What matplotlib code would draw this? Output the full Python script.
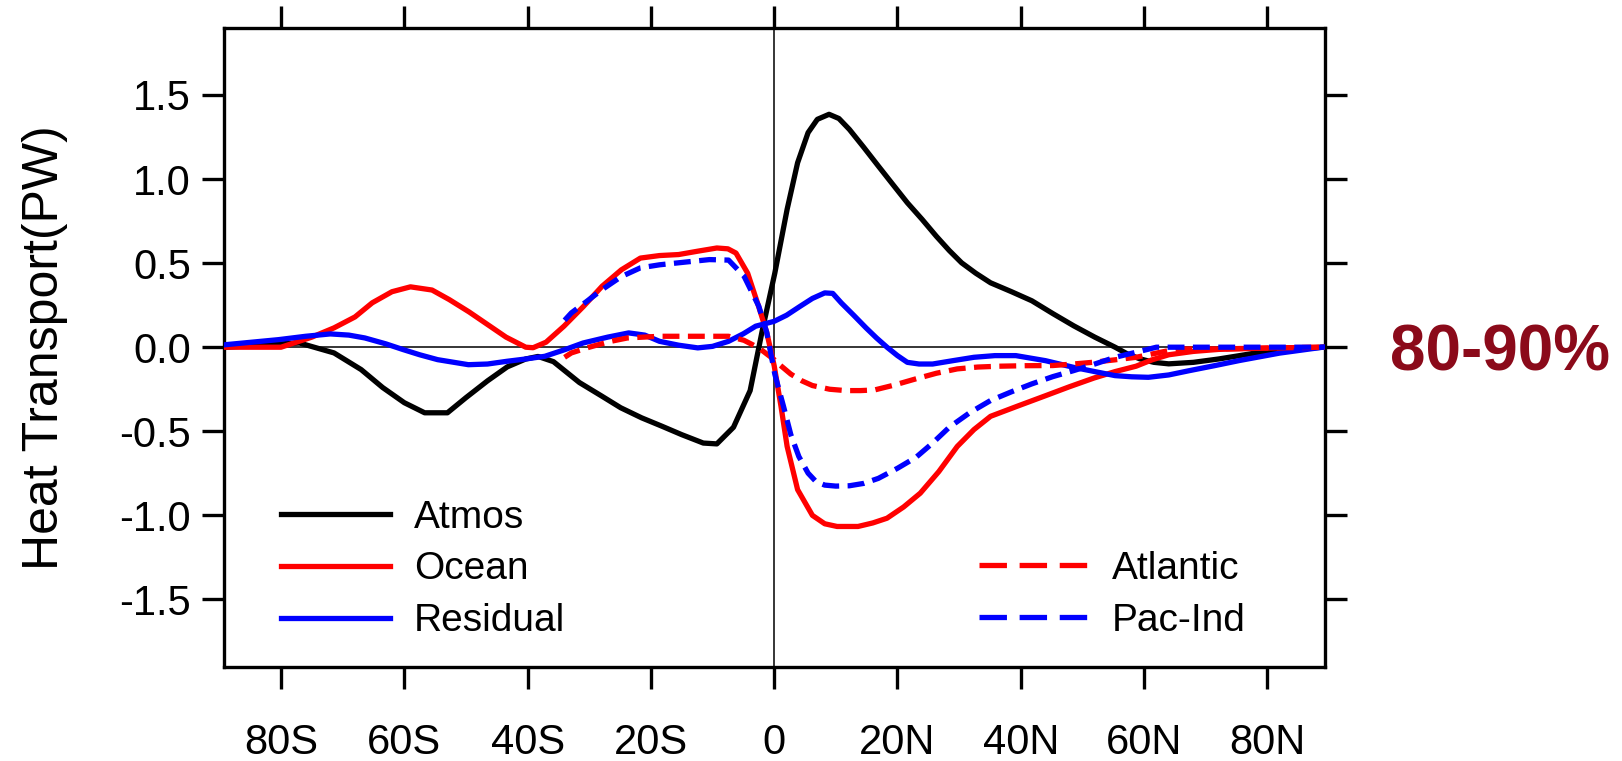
import numpy as np
import matplotlib
matplotlib.use('Agg')
import matplotlib.pyplot as plt
from matplotlib.lines import Line2D

plt.rcParams['font.family'] = ['Liberation Sans', 'DejaVu Sans']

# Northward heat transport (PW)
atmos_lat = [-89, -80, -77, -71.4, -67, -63.5, -60, -56.7, -53, -50, -46.5, -43.3, -40.3, -38.3,
             -35.8, -31.6, -28, -24.9, -21.5, -18.2, -15, -11.5, -9.3, -6.6, -3.9, -1.9, 0.1,
             2.1, 3.8, 5.5, 7, 8.9, 10.5, 12.2, 14.5, 16.9, 19.2, 21.6, 24, 26.3, 28.4, 30.4,
             32.7, 35.1, 38.5, 41.8, 45.2, 48.6, 52, 55.3, 57.3, 59.3, 61.6, 64, 68, 72.1,
             75.5, 78.8, 84, 89]
atmos = [0.0, 0.02, 0.025, -0.034, -0.133, -0.24, -0.33, -0.39, -0.39, -0.30, -0.2, -0.117, -0.07,
         -0.055, -0.086, -0.21, -0.29, -0.36, -0.42, -0.47, -0.52, -0.57, -0.575, -0.476, -0.258,
         0.105, 0.44, 0.82, 1.097, 1.276, 1.355, 1.385, 1.36, 1.295, 1.19, 1.077, 0.97, 0.859,
         0.76, 0.66, 0.575, 0.502, 0.44, 0.383, 0.33, 0.276, 0.2, 0.127, 0.06, 0.0, -0.04, -0.069,
         -0.09, -0.099, -0.09, -0.07, -0.05, -0.03, -0.012, 0.0]

ocean_lat = [-89, -80, -75, -71.4, -68, -65.2, -62, -59, -55.5, -52.7, -49.5, -46.5, -43.5,
             -40.3, -39.1, -37, -34.1, -31, -27.9, -24.8, -21.7, -18.6, -15.5, -12.4, -9.3,
             -7.5, -6.2, -4.3, -2.5, -1.2, 0, 1.1, 2.1, 3.8, 6.2, 8.2, 10.2, 13.6, 16, 18.3,
             21, 23.7, 26.7, 29.7, 32.4, 35.1, 39.5, 43.9, 47.9, 51.9, 55.3, 58.7, 61.3, 64,
             68, 72.1, 80, 89]
ocean = [0.0, 0.0, 0.06, 0.115, 0.18, 0.264, 0.33, 0.359, 0.34, 0.283, 0.21, 0.135, 0.06, 0.0,
         -0.003, 0.03, 0.125, 0.24, 0.363, 0.46, 0.53, 0.545, 0.551, 0.571, 0.59, 0.585, 0.56,
         0.44, 0.24, 0.087, -0.11, -0.35, -0.59, -0.847, -1.0, -1.05, -1.066, -1.066, -1.045,
         -1.017, -0.95, -0.868, -0.74, -0.59, -0.49, -0.411, -0.35, -0.29, -0.235, -0.183, -0.145,
         -0.113, -0.075, -0.045, -0.025, -0.013, -0.005, 0.0]

resid_lat = [-89, -80.4, -76, -72, -69, -66.4, -63, -60.2, -57.5, -54.6, -49.6, -46.5, -43.4,
             -40.3, -37.2, -34, -31, -27, -23.6, -21, -18.6, -15.5, -12.4, -10, -7.4, -5,
             -3, 0, 2, 4.2, 6.2, 8.2, 9.5, 10.9, 12.9, 14.9, 16.6, 18.3, 20, 21.6, 23.5, 25.7,
             29, 32.4, 35.8, 39.2, 44, 48.6, 52, 55.3, 58, 60.7, 64, 67.4, 71.4, 75.5, 82, 89]
resid = [0.015, 0.045, 0.065, 0.079, 0.072, 0.055, 0.02, -0.014, -0.045, -0.074, -0.104, -0.1,
         -0.084, -0.07, -0.054, -0.015, 0.025, 0.06, 0.085, 0.072, 0.035, 0.012, -0.004, 0.005,
         0.035, 0.08, 0.125, 0.154, 0.19, 0.243, 0.29, 0.323, 0.32, 0.263, 0.19, 0.115, 0.055,
         0.0, -0.05, -0.09, -0.1, -0.1, -0.08, -0.06, -0.05, -0.05, -0.08, -0.12, -0.145, -0.169,
         -0.176, -0.179, -0.165, -0.139, -0.11, -0.079, -0.035, 0.0]

atl_lat = [-34, -32.9, -30, -26.5, -23.8, -18.6, -12.4, -7.4, -4.9, -2.5, 0, 0.1, 2.7, 4.5,
           6.2, 9, 11.6, 14, 16.3, 19.5, 23, 26.3, 29.7, 33, 36.5, 40.8, 45.2, 48.5, 51.9,
           55.3, 58.7, 62, 65.4, 72.1, 80, 89]
atl = [-0.06, -0.034, 0.0, 0.035, 0.055, 0.065, 0.065, 0.065, 0.041, -0.004, -0.074, -0.08,
       -0.16, -0.2, -0.228, -0.25, -0.258, -0.258, -0.254, -0.225, -0.188, -0.155, -0.129,
       -0.118, -0.113, -0.11, -0.109, -0.1, -0.089, -0.075, -0.06, -0.035, -0.01, -0.01,
       -0.005, 0.0]

pac_lat = [-34, -32.9, -30.5, -27.9, -24.8, -21.7, -18.6, -15.5, -10.5, -7.4, -4.9, -2.5,
           -1.2, 0.1, 1.5, 2.7, 4, 5.5, 6.8, 8.2, 10, 12.2, 14.5, 16.9, 20, 23, 25.7, 28.4,
           31.7, 35.1, 38.5, 41.8, 45.2, 48.6, 52, 55.3, 58.7, 62, 68.8, 80, 89]
pac = [0.16, 0.204, 0.27, 0.343, 0.42, 0.472, 0.49, 0.502, 0.521, 0.518, 0.423, 0.244, 0.087,
       -0.16, -0.35, -0.52, -0.65, -0.749, -0.8, -0.82, -0.826, -0.824, -0.81, -0.78, -0.72,
       -0.655, -0.57, -0.476, -0.39, -0.317, -0.265, -0.218, -0.175, -0.139, -0.1, -0.06,
       -0.03, 0.0, 0.0, 0.0, 0.0]

xticks = [-80, -60, -40, -20, 0, 20, 40, 60, 80]
xticklabels = ['80S', '60S', '40S', '20S', '0', '20N', '40N', '60N', '80N']
yticks = [-1.5, -1.0, -0.5, 0.0, 0.5, 1.0, 1.5]

fig = plt.figure(figsize=(16.22, 7.61), dpi=100)
ax = fig.add_axes([0.1379, 0.1239, 0.8167 - 0.1379, 0.9636 - 0.1239])

lw = 3.8
ax.axhline(0, color='black', lw=1.1, zorder=1)
ax.axvline(0, color='black', lw=1.1, zorder=1)
ax.plot(atmos_lat, atmos, color='black', lw=lw, zorder=3)
ax.plot(ocean_lat, ocean, color='red', lw=lw, zorder=3)
ax.plot(resid_lat, resid, color='blue', lw=lw, zorder=3)
ax.plot(atl_lat, atl, color='red', lw=lw, dashes=(3.2, 1.6), zorder=4)
ax.plot(pac_lat, pac, color='blue', lw=lw, dashes=(3.2, 1.6), zorder=4)

ax.set_xlim(-89.3, 89.3)
ax.set_ylim(-1.9, 1.9)
ax.set_xticks(xticks)
ax.set_xticklabels(xticklabels)
ax.set_yticks(yticks)
ax.set_yticklabels(['%.1f' % v for v in yticks])
ax.tick_params(direction='out', length=15.5, width=2.4, top=True, right=True,
               labelsize=30)
ax.tick_params(axis='x', pad=25)
ax.tick_params(axis='y', pad=8)
for s in ax.spines.values():
    s.set_linewidth(2.4)

ax.set_ylabel('Heat Transport(PW)', fontsize=36)
ax.yaxis.set_label_coords(-0.141, 0.5)

h1 = [Line2D([], [], color='black', lw=lw),
      Line2D([], [], color='red', lw=lw),
      Line2D([], [], color='blue', lw=lw)]
leg1 = ax.legend(h1, ['Atmos', 'Ocean', 'Residual'], loc='upper left',
                 bbox_to_anchor=(0.052, 0.2616), frameon=False, fontsize=28,
                 handlelength=2.8, handletextpad=0.62, labelspacing=0.41,
                 borderpad=0, borderaxespad=0)
ax.add_artist(leg1)
h2 = [Line2D([], [], color='red', lw=lw, dashes=(5.2, 2.4)),
      Line2D([], [], color='blue', lw=lw, dashes=(5.2, 2.4))]
ax.legend(h2, ['Atlantic', 'Pac-Ind'], loc='upper left',
          bbox_to_anchor=(0.6857, 0.181), frameon=False, fontsize=28,
          handlelength=2.8, handletextpad=0.62, labelspacing=0.41,
          borderpad=0, borderaxespad=0)

fig.text(1390 / 1622, 1 - 354 / 761, '80-90%', color='#8B0A1A', fontsize=46,
         fontweight='bold', ha='left', va='center')

fig.savefig('out.png', dpi=100)
